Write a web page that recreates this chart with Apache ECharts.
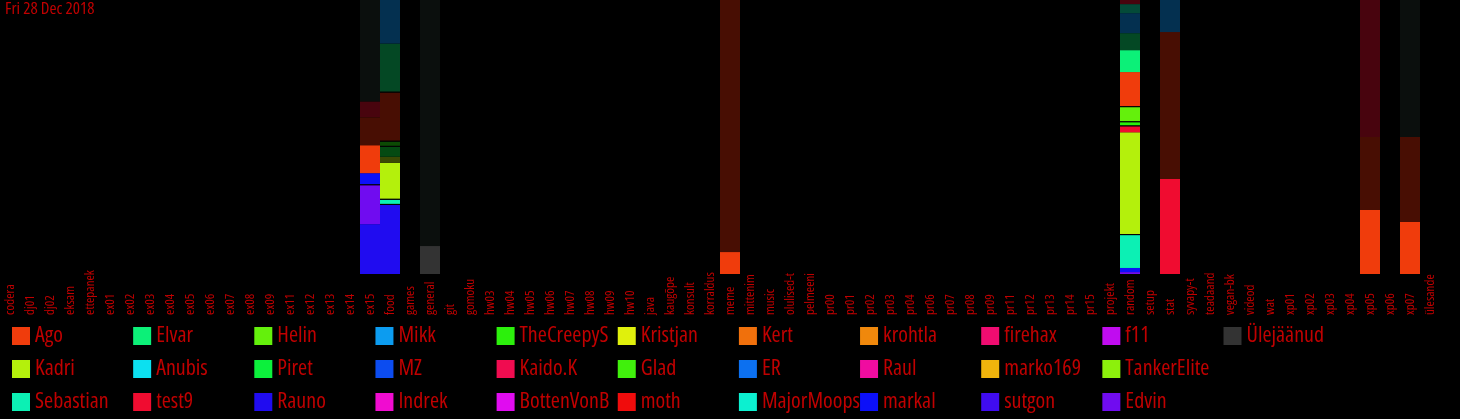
<!DOCTYPE html>
<html><head><meta charset="utf-8">
<script src="https://cdn.jsdelivr.net/npm/echarts@6/dist/echarts.min.js"></script>
<style>html,body{margin:0;padding:0;background:#000;}#c{width:1460px;height:419px;}</style>
</head><body><div id="c"></div>
<script>
const titleText = 'Fri 28 Dec 2018';
const categories = ['codera','dj01','dj02','eksam','ettepanek','ex01','ex02','ex03','ex04','ex05','ex06','ex07','ex08','ex09','ex11','ex12','ex13','ex14','ex15','food','games','general','git','gomoku','hw03','hw04','hw05','hw06','hw07','hw08','hw09','hw10','java','kaugõpe','konsult','korraldus','meme','mittenimk','music','olulised-t','pelmeeni-','pr00','pr01','pr02','pr03','pr04','pr06','pr07','pr08','pr09','pr11','pr12','pr13','pr14','pr15','projekt','random','setup','stat','syvapy-t','teadaand','vegan-bk','videod','wat','xp01','xp02','xp03','xp04','xp05','xp06','xp07','ülesanded'];

const legendRow1 = ['Ago','Elvar','Helin','Mikk','TheCreepySh','Kristjan','Kert','krohtla','firehax','f11','Ülejäänud'];
const legendRow2 = ['Kadri','Anubis','Piret','MZ','Kaido.K','Glad','ER','Raul','marko169','TankerElite'];
const legendRow3 = ['Sebastian','test9','Rauno','Indrek','BottenVonBot','moth','MajorMoopsy','markal','sutgon','Edvin'];

// stacking order, bottom to top
const stackOrder = ['Ülejäänud','Rauno','Edvin','v1','markal','Sebastian','v2','Kadri','kadri-t','piret-t','v3','glad-t','test9','v4','TheCreepySh','v5','Helin','v6','Ago','Elvar','ago-t','v7','elvar-t','mikk-t','seb-t','test9-t','muud-t',
  'Anubis','Piret','Mikk','MZ','Indrek','Kaido.K','BottenVonBot','Kristjan','Glad','moth','Kert','ER','MajorMoopsy','krohtla','Raul','firehax','marko169','sutgon','f11','TankerElite'];

// shares per channel (% of bar), bottom to top
const ex15 = [['Rauno',18.2],['Edvin',14.2],['v1',0.4],['markal',4.0],['Ago',10.2],['ago-t',10.2],['test9-t',5.8],['muud-t',37.0]];
const food = [['Rauno',25.2],['v1',0.4],['Sebastian',1.5],['v2',0.4],['Kadri',13.1],['kadri-t',2.2],['piret-t',3.6],['v3',0.4],['glad-t',1.5],['v4',0.4],['ago-t',17.5],['v7',0.4],['elvar-t',17.5],['mikk-t',15.9]];
const general = [['Ülejäänud',10.2],['muud-t',89.8]];
const meme = [['Ago',8.0],['ago-t',92.0]];
const random = [['Edvin',0.7],['markal',1.5],['Sebastian',12.0],['v2',0.4],['Kadri',37.1],['test9',2.2],['v4',0.4],['TheCreepySh',1.1],['v5',0.4],['Helin',5.1],['v6',0.4],['Ago',12.4],['Elvar',8.0],['elvar-t',6.2],['mikk-t',7.3],['seb-t',3.3],['test9-t',1.5]];
const stat = [['test9',34.7],['ago-t',53.6],['mikk-t',11.7]];
const xp05 = [['Ago',23.4],['ago-t',26.6],['test9-t',50.0]];
const xp07 = [['Ago',19.0],['ago-t',31.0],['muud-t',50.0]];
const channelShares = {ex15, food, general, meme, random, stat, xp05, xp07};

const colors = {
  'Ago':'#f03c0c','Kadri':'#b4f00c','Sebastian':'#0cf0b4','Elvar':'#0cf078','Anubis':'#0ce0f0','test9':'#f00c30',
  'Helin':'#64f00c','Piret':'#0cf03c','Rauno':'#200cf0','Mikk':'#0c9cf0','MZ':'#0c4cf0','Indrek':'#f00cd0',
  'TheCreepySh':'#2cf00c','Kaido.K':'#f00c50','BottenVonBot':'#e00cf0','Kristjan':'#e0f00c','Glad':'#40f00c','moth':'#f00c0c',
  'Kert':'#f0700c','ER':'#0c70f0','MajorMoopsy':'#0cf0d0','krohtla':'#f0880c','Raul':'#f00ca0','markal':'#0c10f8',
  'firehax':'#f00c70','marko169':'#f0b40c','sutgon':'#400cf0','f11':'#c00cf0','TankerElite':'#8cf00c','Edvin':'#700cf0',
  'Ülejäänud':'#333333',
  'kadri-t':'#3a4a04','piret-t':'#044a12','glad-t':'#0c4a04','ago-t':'#480e03','elvar-t':'#044824','mikk-t':'#043050','seb-t':'#044a38','test9-t':'#48040e','muud-t':'#0b0f0d',
  'v1':'#040404','v2':'#040404','v3':'#040404','v4':'#040404','v5':'#040404','v6':'#040404','v7':'#040404'
};

const textRed = '#c00000';
const font = "'Open Sans', sans-serif";
const stretch = 'condensed'; // passed through fontWeight into the canvas font string

const series = stackOrder.map(name => ({
  name, type: 'bar', stack: 'all', barCategoryGap: '0%',
  itemStyle: {color: colors[name]},
  data: categories.map(c => {
    const list = channelShares[c];
    if (!list) return 0;
    const f = list.find(p => p[0] === name);
    return f ? f[1] : 0;
  })
}));

const legends = [];
[legendRow1, legendRow2, legendRow3].forEach((row, r) => {
  row.forEach((name, c) => {
    legends.push({
      data: [name], left: 12 + c * 121.15, top: 325 + r * 33, padding: 0, icon: 'rect',
      itemWidth: 18, itemHeight: 18, selectedMode: false,
      textStyle: {color: textRed, fontSize: 22, fontFamily: font, fontWeight: stretch, width: 99, overflow: 'truncate', ellipsis: ''}
    });
  });
});

const chart = echarts.init(document.getElementById('c'), null, {renderer: 'canvas'});
chart.setOption({
  backgroundColor: '#000',
  animation: false,
  title: {text: titleText, left: 5, top: 1, padding: 0, textStyle: {color: textRed, fontSize: 17, fontWeight: stretch, fontFamily: font}},
  grid: {left: 0, right: 20, top: 0, bottom: 145, containLabel: false},
  legend: legends,
  xAxis: {type: 'category', data: categories, axisLine: {show: false}, axisTick: {show: false},
    axisLabel: {interval: 0, rotate: 90, align: 'left', color: textRed, fontSize: 13, fontFamily: font, fontWeight: stretch, margin: 41, width: 46, overflow: 'truncate', ellipsis: ''}},
  yAxis: {type: 'value', min: 0, max: 100, show: false, splitLine: {show: false}},
  series
});
</script></body></html>
